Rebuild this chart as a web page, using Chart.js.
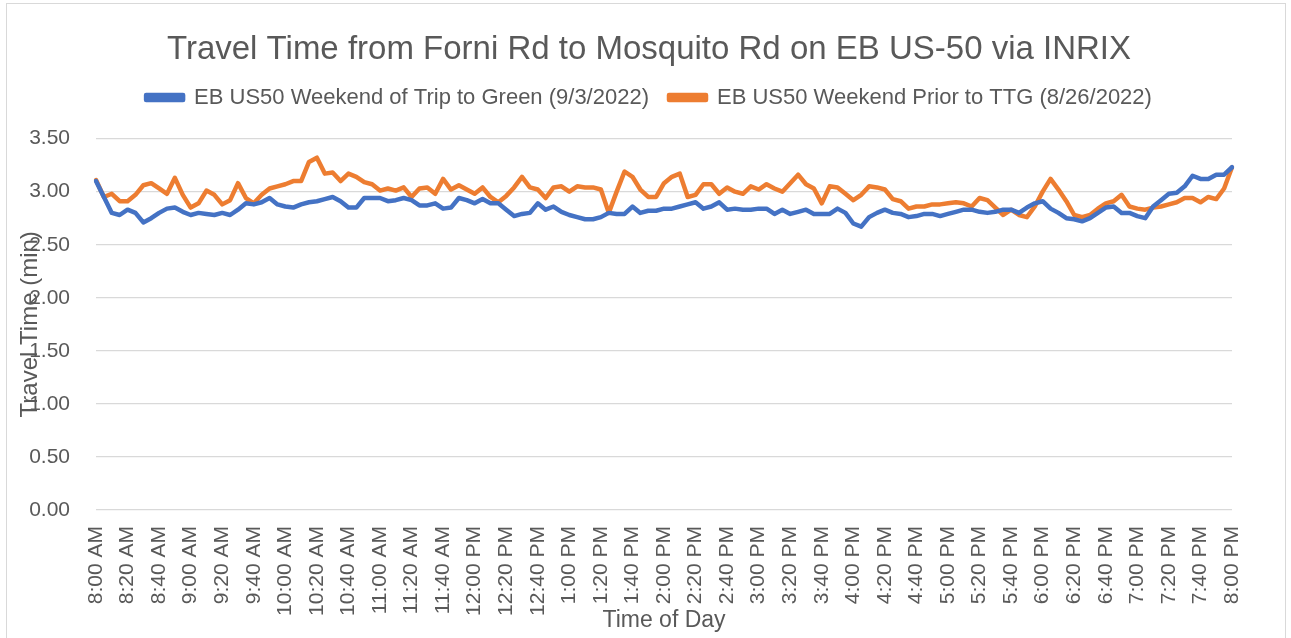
<!DOCTYPE html>
<html><head><meta charset="utf-8"><title>Travel Time EB US-50</title>
<script src="https://cdn.jsdelivr.net/npm/chart.js"></script>
<style>
html, body { margin: 0; padding: 0; background: #fff; }
#wrap { width: 1291px; height: 638px; }
</style></head>
<body>
<div id="wrap"><canvas id="ttChart"></canvas></div>
<script>
// 5-minute bins, 8:00 AM .. 8:00 PM
const times = [];
for (let m = 8 * 60; m <= 20 * 60; m += 5) {
  const h = Math.floor(m / 60), mm = m % 60;
  const h12 = h > 12 ? h - 12 : h;
  times.push(h12 + ':' + String(mm).padStart(2, '0') + (h >= 12 ? ' PM' : ' AM'));
}

const seriesNames = ['EB US50 Weekend of Trip to Green (9/3/2022)', 'EB US50 Weekend Prior to TTG (8/26/2022)'];

const tripWeekend = [
  3.10, 2.95, 2.80, 2.78, 2.83, 2.80, 2.71, 2.75, 2.80, 2.84, 2.85, 2.81,
  2.78, 2.80, 2.79, 2.78, 2.80, 2.78, 2.83, 2.89, 2.88, 2.90, 2.94, 2.88,
  2.86, 2.85, 2.88, 2.90, 2.91, 2.93, 2.95, 2.91, 2.85, 2.85, 2.94, 2.94,
  2.94, 2.91, 2.92, 2.94, 2.92, 2.87, 2.87, 2.89, 2.84, 2.85, 2.94, 2.92,
  2.89, 2.93, 2.89, 2.89, 2.83, 2.77, 2.79, 2.80, 2.89, 2.83, 2.86, 2.81,
  2.78, 2.76, 2.74, 2.74, 2.76, 2.80, 2.79, 2.79, 2.86, 2.80, 2.82, 2.82,
  2.84, 2.84, 2.86, 2.88, 2.90, 2.84, 2.86, 2.90, 2.83, 2.84, 2.83, 2.83,
  2.84, 2.84, 2.79, 2.83, 2.79, 2.81, 2.83, 2.79, 2.79, 2.79, 2.84, 2.80,
  2.70, 2.67, 2.76, 2.80, 2.83, 2.80, 2.79, 2.76, 2.77, 2.79, 2.79, 2.77,
  2.79, 2.81, 2.83, 2.83, 2.81, 2.80, 2.81, 2.83, 2.83, 2.80, 2.85, 2.89,
  2.91, 2.84, 2.80, 2.75, 2.74, 2.72, 2.75, 2.80, 2.85, 2.86, 2.80, 2.80,
  2.77, 2.75, 2.86, 2.92, 2.98, 2.99, 3.05, 3.15, 3.12, 3.12, 3.16, 3.16,
  3.23
];

const priorWeekend = [
  3.11, 2.95, 2.98, 2.91, 2.91, 2.97, 3.06, 3.08, 3.03, 2.98, 3.13, 2.97,
  2.85, 2.89, 3.01, 2.97, 2.88, 2.92, 3.08, 2.94, 2.89, 2.97, 3.03, 3.05,
  3.07, 3.10, 3.10, 3.28, 3.32, 3.17, 3.18, 3.10, 3.17, 3.14, 3.09, 3.07,
  3.01, 3.03, 3.01, 3.04, 2.95, 3.03, 3.04, 2.98, 3.12, 3.02, 3.06, 3.02,
  2.98, 3.04, 2.95, 2.90, 2.96, 3.04, 3.14, 3.04, 3.02, 2.94, 3.04, 3.05,
  3.00, 3.05, 3.04, 3.04, 3.02, 2.80, 3.00, 3.19, 3.14, 3.02, 2.95, 2.95,
  3.08, 3.14, 3.17, 2.95, 2.97, 3.07, 3.07, 2.98, 3.04, 3.00, 2.98, 3.05,
  3.02, 3.07, 3.03, 3.00, 3.08, 3.16, 3.07, 3.03, 2.89, 3.05, 3.04, 2.98,
  2.92, 2.97, 3.05, 3.04, 3.02, 2.93, 2.91, 2.84, 2.86, 2.86, 2.88, 2.88,
  2.89, 2.90, 2.89, 2.86, 2.94, 2.92, 2.85, 2.78, 2.83, 2.78, 2.76, 2.86,
  3.00, 3.12, 3.02, 2.91, 2.78, 2.76, 2.78, 2.84, 2.89, 2.91, 2.97, 2.86,
  2.84, 2.83, 2.85, 2.86, 2.88, 2.90, 2.94, 2.94, 2.90, 2.95, 2.93, 3.03,
  3.23
];

const yTicks = [0, 0.5, 1, 1.5, 2, 2.5, 3, 3.5];

const grey = '#595959';
const font = 'Liberation Sans, Arial, sans-serif';

// frame, extra gap under the legend, and the y axis title (it sits over the tick labels)
const extras = {
  id: 'extras',
  beforeLayout(chart) {
    const lg = chart.legend;
    if (lg && !lg._gapAdded) {
      const fit = lg.fit;
      lg.fit = function () { fit.call(this); this.height += 20; };
      lg._gapAdded = true;
    }
  },
  beforeDraw(chart) {
    const ctx = chart.ctx;
    ctx.save();
    ctx.strokeStyle = '#d9d9d9';
    ctx.lineWidth = 1;
    ctx.strokeRect(6.5, 3.5, 1279, 650);
    ctx.restore();
  },
  afterDraw(chart) {
    const ctx = chart.ctx;
    const a = chart.chartArea;
    ctx.save();
    ctx.translate(30, (a.top + a.bottom) / 2);
    ctx.rotate(-Math.PI / 2);
    ctx.fillStyle = grey;
    ctx.font = '24px ' + font;
    ctx.textAlign = 'center';
    ctx.textBaseline = 'middle';
    ctx.fillText('Travel Time (min)', 0, 0);
    ctx.restore();
  }
};

new Chart(document.getElementById('ttChart'), {
  type: 'line',
  data: {
    labels: times,
    datasets: [
      { label: seriesNames[0], data: tripWeekend, borderColor: '#4472C4', backgroundColor: '#4472C4' },
      { label: seriesNames[1], data: priorWeekend, borderColor: '#ED7D31', backgroundColor: '#ED7D31' }
    ]
  },
  options: {
    responsive: true,
    maintainAspectRatio: false,
    animation: false,
    layout: { padding: { left: 7, right: 0, top: 0, bottom: 0 } },
    elements: {
      point: { radius: 0 },
      line: { borderWidth: 4.5, tension: 0, borderCapStyle: 'round', borderJoinStyle: 'round' }
    },
    plugins: {
      title: {
        display: true,
        text: 'Travel Time from Forni Rd to Mosquito Rd on EB US-50 via INRIX',
        color: grey,
        font: { family: font, size: 33, weight: 'normal' },
        padding: { top: 30, bottom: -3 }
      },
      legend: {
        position: 'top',
        labels: {
          color: grey,
          font: { family: font, size: 22 },
          boxWidth: 37,
          boxHeight: 5,
          padding: 20
        }
      },
      tooltip: { enabled: false }
    },
    scales: {
      x: {
        offset: false,
        grid: { display: false },
        border: { display: false },
        ticks: {
          autoSkip: false,
          minRotation: 90,
          maxRotation: 90,
          padding: 8,
          color: grey,
          font: { family: font, size: 21 },
          callback: function (v, i) { return i % 4 === 0 ? times[i] : null; }
        },
        title: {
          display: true,
          text: 'Time of Day',
          color: grey,
          font: { family: font, size: 23 },
          padding: { top: 4, bottom: 4 }
        },
        afterFit: s => { s.height = 128; }
      },
      y: {
        min: 0,
        max: 3.5,
        grid: { color: '#d9d9d9', lineWidth: 1.3, drawTicks: false },
        border: { display: false },
        afterBuildTicks: s => { s.ticks = yTicks.map(v => ({ value: v })); },
        ticks: {
          padding: 26,
          color: grey,
          font: { family: font, size: 21 },
          callback: v => v.toFixed(2)
        },
        afterFit: s => { s.width = 89; }
      },
      // empty right-hand strip so the plot ends where the reference's does
      yRight: {
        position: 'right',
        min: 0,
        max: 3.5,
        grid: { display: false },
        border: { display: false },
        ticks: { display: false },
        afterFit: s => { s.width = 59; }
      }
    }
  },
  plugins: [extras]
});
</script>
</body></html>
